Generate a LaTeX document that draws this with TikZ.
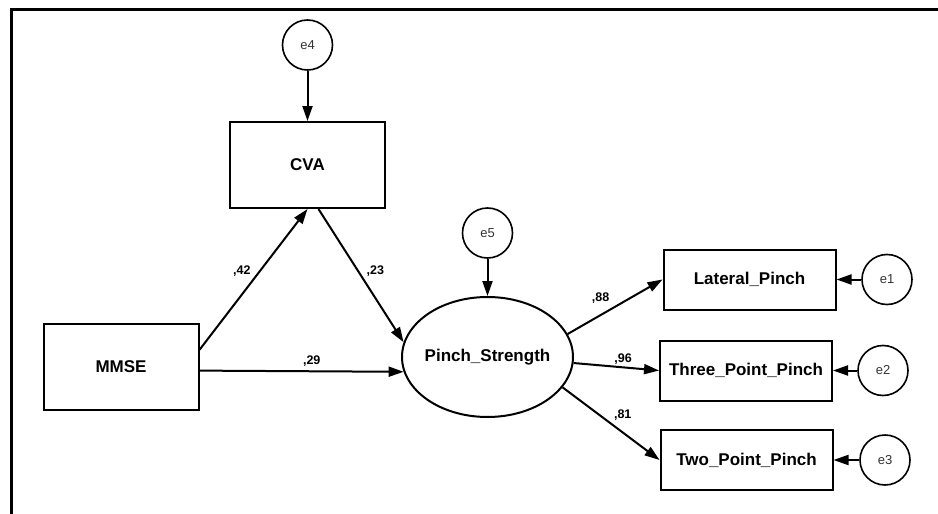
\documentclass[tikz,border=0pt]{standalone}
\usepackage{fontspec}
\setmainfont{Liberation Sans}
\usetikzlibrary{arrows.meta,positioning,shapes.geometric}
\tikzstyle{obs}=[draw, line width=2pt, font=\fontsize{17}{20}\selectfont\bfseries]
\tikzstyle{obsA}=[obs, minimum width=155pt, minimum height=86pt]
\tikzstyle{obsB}=[obs, minimum width=172pt, minimum height=60pt]
\tikzstyle{latent}=[obs, ellipse, inner xsep=-2.5pt, minimum width=171pt, minimum height=120pt]
\tikzstyle{err}=[draw, circle, line width=1.6pt, minimum size=50pt, inner sep=0pt, font=\fontsize{13}{15}\selectfont, text=black!80]
\tikzset{%
    regr/.style={-{Triangle[length=15pt,width=10pt]},line width=2pt},
    coef/.style={inner sep=2pt,font=\fontsize{12.5}{14}\selectfont\bfseries},
    pageframe/.style={line width=3pt},
  }
\begin{document}
\begin{tikzpicture}[x=1pt, y=-1pt]
    \useasboundingbox (0,0) rectangle (938,514);
    \draw [pageframe] (938,9) -- (11,9) -- (11,514);
    %
    \node (mmse) [obsA] at (121,366.5) {MMSE};
    \node (cva) [obsA] at (307.5,165) {CVA};
    \node (pinch) [latent] at (487.5,357) {Pinch\_Strength};
    \node (lat) [obsB] at (749.5,279.5) {Lateral\_Pinch};
    \node (three) [obsB] at (746,370.5) {Three\_Point\_Pinch};
    \node (two) [obsB] at (746.5,460) {Two\_Point\_Pinch};
    %
    \node (e4) [err, node distance=120pt, above of=cva] {e4};
    \node (e5) [err, node distance=124pt, above of=pinch] {e5};
    \node (e1) [err, node distance=137.5pt, right of=lat] {e1};
    \node (e2) [err, node distance=137pt, right of=three] {e2};
    \node (e3) [err, node distance=138.5pt, right of=two] {e3};
    %
    \draw [regr] (e4) -- (cva);
    \draw [regr] (e5) -- (pinch);
    \draw [regr] (e1) -- (lat);
    \draw [regr] (e2) -- (three);
    \draw [regr] (e3) -- (two);
    %
    \draw [regr] (mmse.12) -- node (c42) [coef, pos=0.5, above left] {,42} (cva.south);
    \draw [regr] (cva.-76) -- node (c23) [coef, pos=0.53, above right] {,23} (pinch.170);
    \draw [regr] (mmse.-3) -- node (c29) [coef, pos=0.55, above, yshift=2pt] {,29} (pinch.190);
    %
    \draw [regr] (pinch.16) -- node (c88) [coef, pos=0.47, above left, yshift=2pt] {,88} (lat.west);
    \draw [regr] (pinch.-4) -- node (c96) [coef, pos=0.58, above] {,96} (three.west);
    \draw [regr] (pinch.-22) -- node (c81) [coef, pos=0.5, above right] {,81} (two.west);
  \end{tikzpicture}
\end{document}
